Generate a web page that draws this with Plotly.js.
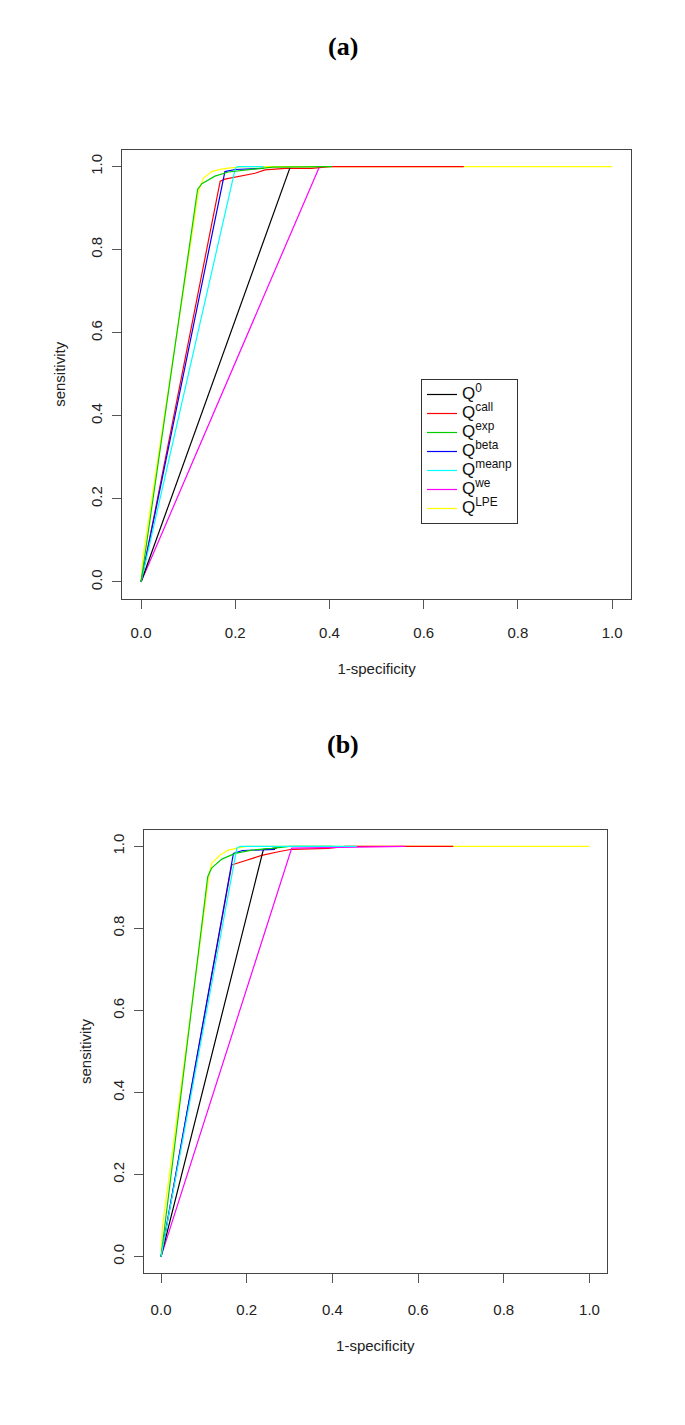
<!DOCTYPE html>
<html>
<head>
<meta charset="utf-8">
<script src="https://cdn.plot.ly/plotly-3.0.1.min.js"></script>
<style>html,body{margin:0;padding:0;background:#fff;}#chart{width:685px;height:1425px;}</style>
</head>
<body>
<div id="chart"></div>
<script>
// ---- Data ----
const seriesSup = ['0','call','exp','beta','meanp','we','LPE'];
const seriesColors = ['#000000','#FF0000','#00CD00','#0000FF','#00FFFF','#FF00FF','#FFFF00'];
const tickValues = [0, 0.2, 0.4, 0.6, 0.8, 1.0];
const tickLabels = ['0.0','0.2','0.4','0.6','0.8','1.0'];

// Panel (a)
const a_q0_x    = [0, 0.316];
const a_q0_y    = [0, 0.997];
const a_call_x  = [0, 0.168, 0.178, 0.205, 0.242, 0.263, 0.306, 0.362, 0.40, 0.685];
const a_call_y  = [0, 0.965, 0.970, 0.976, 0.984, 0.992, 0.996, 0.996, 1.0, 1.0];
const a_exp_x   = [0, 0.120, 0.129, 0.143, 0.157, 0.185, 0.235, 0.28, 0.405];
const a_exp_y   = [0, 0.945, 0.959, 0.969, 0.977, 0.987, 0.994, 0.999, 1.0];
const a_beta_x  = [0, 0.178, 0.200, 0.260];
const a_beta_y  = [0, 0.988, 0.993, 0.996];
const a_meanp_x = [0, 0.200, 0.205, 0.260];
const a_meanp_y = [0, 0.995, 1.0, 1.0];
const a_we_x    = [0, 0.378];
const a_we_y    = [0, 0.998];
const a_lpe_x   = [0, 0.004, 0.122, 0.132, 0.150, 0.171, 0.190, 0.220, 1.0];
const a_lpe_y   = [0, 0.060, 0.940, 0.972, 0.988, 0.994, 0.997, 1.0, 1.0];

// Panel (b)
const b_q0_x    = [0, 0.239, 0.270];
const b_q0_y    = [0, 0.993, 0.996];
const b_call_x  = [0, 0.165, 0.196, 0.235, 0.274, 0.305, 0.390, 0.430, 0.682];
const b_call_y  = [0, 0.955, 0.965, 0.978, 0.987, 0.993, 0.995, 1.0, 1.0];
const b_exp_x   = [0, 0.109, 0.118, 0.142, 0.173, 0.212, 0.258, 0.300, 0.400];
const b_exp_y   = [0, 0.926, 0.947, 0.969, 0.983, 0.991, 0.995, 1.0, 1.0];
const b_beta_x  = [0, 0.169, 0.190, 0.266];
const b_beta_y  = [0, 0.983, 0.990, 0.993];
const b_meanp_x = [0, 0.177, 0.185, 0.457];
const b_meanp_y = [0, 0.996, 1.0, 1.0];
const b_we_x    = [0, 0.305, 0.569];
const b_we_y    = [0, 0.996, 1.0];
const b_lpe_x   = [0, 0.003, 0.112, 0.118, 0.138, 0.157, 0.177, 0.200, 1.0];
const b_lpe_y   = [0, 0.070, 0.930, 0.959, 0.979, 0.991, 0.996, 1.0, 1.0];

// ---- Traces ----
function legendName(idx) {
  return '<span style="font-size:17px">Q<sup>' + seriesSup[idx] + '</sup></span>';
}
function tr(x, y, idx, xa, ya, legend) {
  return {
    type: 'scatter', mode: 'lines', x: x, y: y,
    xaxis: xa, yaxis: ya,
    name: legendName(idx), legendrank: idx + 1,
    showlegend: legend,
    line: {color: seriesColors[idx], width: 1.2},
    hoverinfo: 'skip'
  };
}
// drawing order (bottom -> top) chosen to match which colour is visible on shared segments
const data = [
  tr(a_lpe_x, a_lpe_y, 6, 'x', 'y', true),
  tr(a_call_x, a_call_y, 1, 'x', 'y', true),
  tr(a_we_x, a_we_y, 5, 'x', 'y', true),
  tr(a_q0_x, a_q0_y, 0, 'x', 'y', true),
  tr(a_beta_x, a_beta_y, 3, 'x', 'y', true),
  tr(a_meanp_x, a_meanp_y, 4, 'x', 'y', true),
  tr(a_exp_x, a_exp_y, 2, 'x', 'y', true),

  tr(b_lpe_x, b_lpe_y, 6, 'x2', 'y2', false),
  tr(b_call_x, b_call_y, 1, 'x2', 'y2', false),
  tr(b_we_x, b_we_y, 5, 'x2', 'y2', false),
  tr(b_q0_x, b_q0_y, 0, 'x2', 'y2', false),
  tr(b_beta_x, b_beta_y, 3, 'x2', 'y2', false),
  tr(b_exp_x, b_exp_y, 2, 'x2', 'y2', false),
  tr(b_meanp_x, b_meanp_y, 4, 'x2', 'y2', false)
];

const W = 685, H = 1425;
const tickFont = {family: 'Liberation Sans, Arial, sans-serif', size: 15, color: '#222'};
function xAxis(domain, anchor, labelGap, titleGap) {
  return {
    domain: domain, anchor: anchor, range: [-0.04, 1.04],
    tickvals: tickValues, ticktext: tickLabels,
    ticks: 'outside', ticklen: 9, tickwidth: 1, tickcolor: '#555',
    showline: true, mirror: true, linecolor: '#444', linewidth: 1,
    showgrid: false, zeroline: false, automargin: false,
    tickfont: tickFont, ticklabelstandoff: labelGap,
    title: {text: '1-specificity', font: tickFont, standoff: titleGap}
  };
}
function yAxis(domain, anchor, standoff) {
  return {
    domain: domain, anchor: anchor, range: [-0.04, 1.04],
    tickvals: tickValues, ticktext: tickLabels, tickangle: -90,
    ticks: 'outside', ticklen: 9, tickwidth: 1, tickcolor: '#555',
    showline: true, mirror: true, linecolor: '#444', linewidth: 1,
    showgrid: false, zeroline: false, automargin: false,
    tickfont: tickFont, ticklabelstandoff: 4,
    title: {text: 'sensitivity', font: tickFont, standoff: standoff}
  };
}

const layout = {
  width: W, height: H,
  margin: {l: 0, r: 0, t: 0, b: 0},
  paper_bgcolor: '#fff', plot_bgcolor: '#fff',
  showlegend: true,
  xaxis: xAxis([122.2 / W, 631 / W], 'y', 11, 23),
  yaxis: yAxis([1 - 598.6 / H, 1 - 150 / H], 'x', 18),
  xaxis2: xAxis([143.9 / W, 606.6 / W], 'y2', 14, 23),
  yaxis2: yAxis([1 - 1273 / H, 1 - 830 / H], 'x2', 14),
  legend: {
    x: 421 / W, y: 1 - 379 / H, xanchor: 'left', yanchor: 'top',
    bordercolor: '#333', borderwidth: 1, bgcolor: '#fff',
    font: {family: 'Liberation Sans, Arial, sans-serif', size: 12, color: '#111'},
    traceorder: 'normal', itemwidth: 30
  },
  annotations: [
    {text: '<b>(a)</b>', x: 343 / W, y: 1 - 46 / H, xref: 'paper', yref: 'paper', showarrow: false,
     xanchor: 'center', yanchor: 'middle',
     font: {family: 'Liberation Serif, Times New Roman, serif', size: 26, color: '#000'}},
    {text: '<b>(b)</b>', x: 343 / W, y: 1 - 744 / H, xref: 'paper', yref: 'paper', showarrow: false,
     xanchor: 'center', yanchor: 'middle',
     font: {family: 'Liberation Serif, Times New Roman, serif', size: 26, color: '#000'}}
  ]
};

Plotly.newPlot('chart', data, layout, {displayModeBar: false, staticPlot: true});
</script>
</body>
</html>
